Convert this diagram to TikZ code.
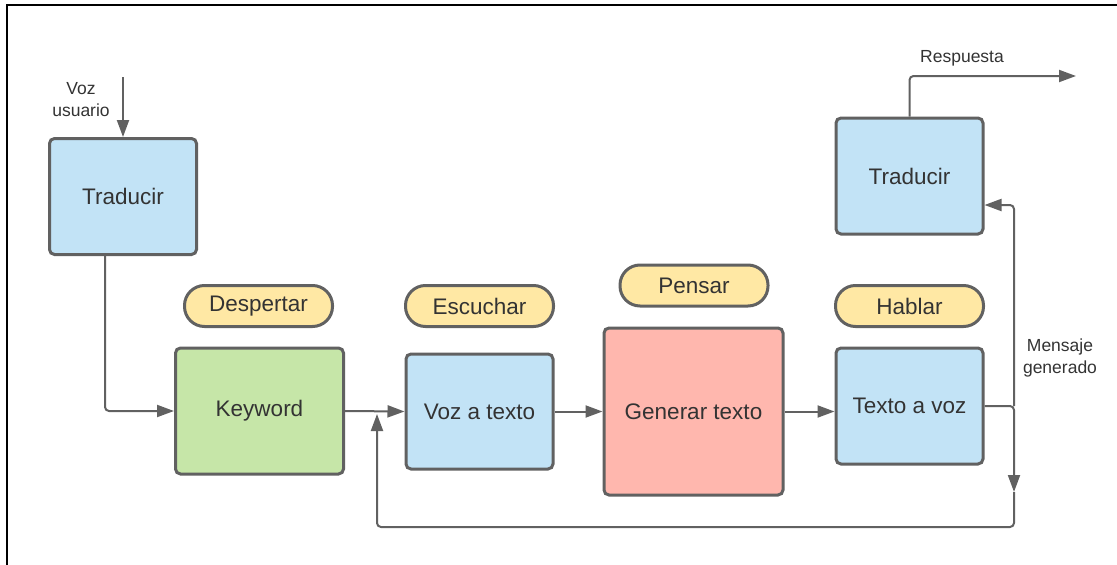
\documentclass[tikz,border=0pt]{standalone}
\usepackage{fontspec}
\setmainfont{Liberation Sans}
\usetikzlibrary{arrows.meta}
\definecolor{txt}{HTML}{333333}
\definecolor{ln}{HTML}{616161}
\definecolor{bblue}{HTML}{C2E3F6}
\definecolor{bgreen}{HTML}{C6E6A8}
\definecolor{bpink}{HTML}{FFB7AE}
\definecolor{byellow}{HTML}{FFE8A4}
\tikzset{
  box/.style={draw=ln, line width=3pt, rounded corners=5pt, text=txt,
    font=\fontsize{22.5}{27}\selectfont, inner sep=0pt},
  pill/.style={draw=ln, line width=3pt, rounded corners=20pt, fill=byellow, text=txt,
    font=\fontsize{22.5}{27}\selectfont, inner sep=0pt, minimum width=148pt, minimum height=41pt},
  conn/.style={draw=ln, line width=2pt, rounded corners=4pt},
  arr/.style={conn, -{Triangle[length=17pt,width=12pt]}},
  lbl/.style={text=txt, font=\fontsize{17.5}{22}\selectfont, align=center, inner sep=0pt}
}
\begin{document}
\begin{tikzpicture}[x=1pt,y=-1pt]
\useasboundingbox (0,0) rectangle (1117,565);
\draw[black, line width=2.5pt] (7,566) -- (7,5) -- (1118,5);

\node[box, fill=bblue, minimum width=147pt, minimum height=116pt] (t1) at (123,196.5) {Traducir};
\node[box, fill=bgreen, minimum width=168pt, minimum height=126pt] (kw) at (259.5,411) {Keyword};
\node[box, fill=bblue, minimum width=147pt, minimum height=115pt] (vt) at (479.5,411.5) {Voz a texto};
\node[box, fill=bpink, minimum width=179pt, minimum height=167pt] (gt) at (693.5,411.5) {Generar texto};
\node[box, fill=bblue, minimum width=147pt, minimum height=116pt] (tv) at (909.5,406) {Texto a voz};
\node[box, fill=bblue, minimum width=147pt, minimum height=116pt] (t2) at (909.5,176) {Traducir};

\node[pill] (p1) at (258.5,306) {Despertar};
\node[pill] (p2) at (479.5,306) {Escuchar};
\node[pill] (p3) at (694,285.5) {Pensar};
\node[pill] (p4) at (909.5,306) {Hablar};

\node[lbl] (lv) at (81,100) {Voz\\usuario};
\node[lbl] (lr) at (962,58) {Respuesta};
\node[lbl] (lm) at (1060,358) {Mensaje\\generado};

\coordinate (vin) at (123,77);
\coordinate (split) at (1014,406);
\coordinate (dn) at (1014,492);
\coordinate (corner) at (1014,527);
\coordinate (up) at (377,414);
\coordinate (rout) at (1076,76);

\draw[arr] (vin) -- (t1.north);
\draw[arr] ([xshift=-18pt]t1.south) |- (kw.west);
\draw[arr] (kw.east) -- (vt.west);
\draw[arr] (vt.east) -- (gt.west |- vt.east);
\draw[arr] (gt.east |- vt.east) -- (tv.west |- vt.east);
\draw[arr] (tv.east) -| (dn);
\draw[arr] (dn) -- (corner) -| (up);
\draw[arr] (split) |- ([yshift=-29pt]t2.east);
\draw[arr] (t2.north) |- (rout);
\end{tikzpicture}
\end{document}
